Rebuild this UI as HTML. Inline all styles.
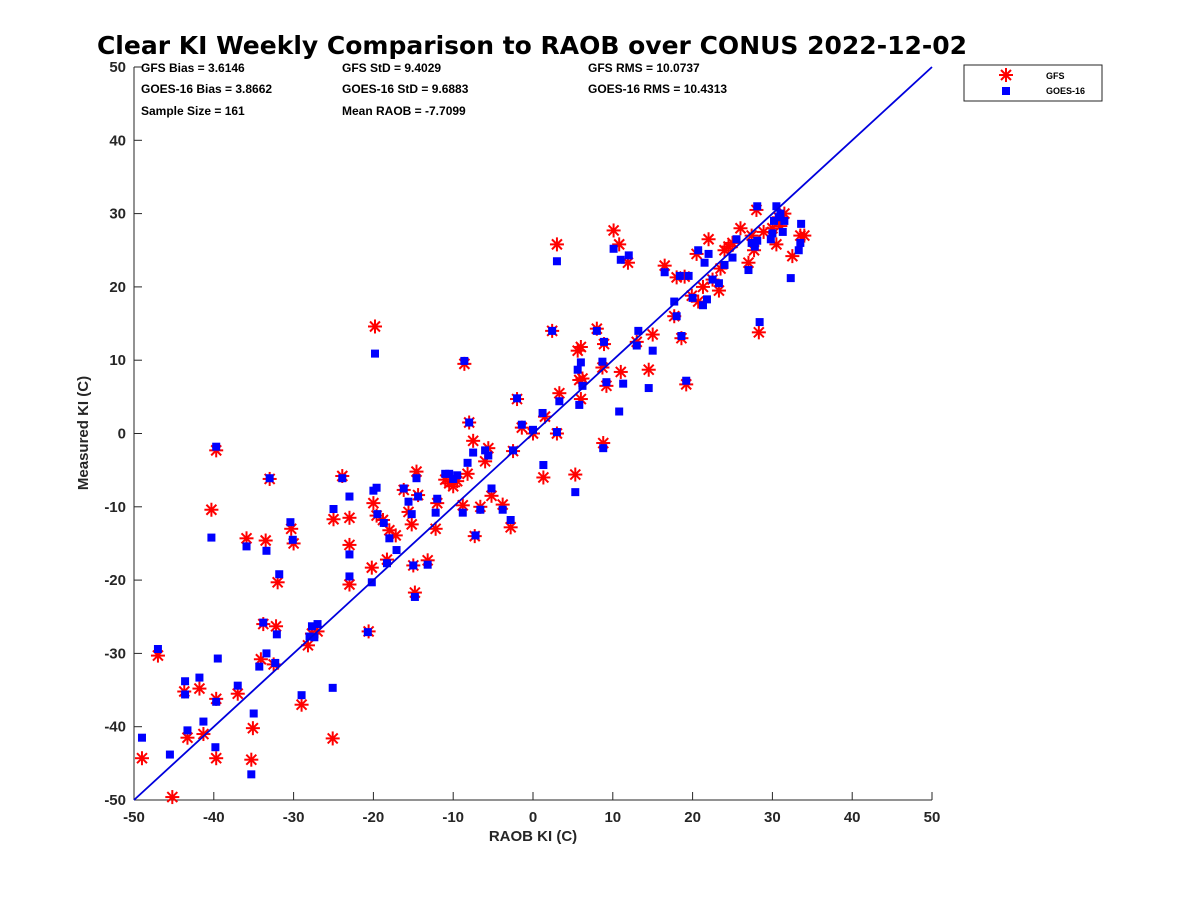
<!DOCTYPE html>
<html><head><meta charset="utf-8"><style>
body{margin:0;background:#fff;}
svg{display:block;font-family:"Liberation Sans",sans-serif;}
</style></head><body>
<svg id="chart" width="1200" height="900">
<text x="532" y="54" text-anchor="middle" font-size="25" font-weight="bold" style="font-family:'DejaVu Sans',sans-serif">Clear KI Weekly Comparison to RAOB over CONUS 2022-12-02</text>
<g font-size="12" font-weight="bold">
<text x="141" y="72">GFS Bias = 3.6146</text>
<text x="141" y="93">GOES-16 Bias = 3.8662</text>
<text x="141" y="115">Sample Size = 161</text>
<text x="342" y="72">GFS StD = 9.4029</text>
<text x="342" y="93">GOES-16 StD = 9.6883</text>
<text x="342" y="115">Mean RAOB = -7.7099</text>
<text x="588" y="72">GFS RMS = 10.0737</text>
<text x="588" y="93">GOES-16 RMS = 10.4313</text>
</g>
<g id="axes"></g>
<g id="marks"></g>
<text x="533" y="841" text-anchor="middle" font-size="15" font-weight="bold" fill="#262626">RAOB KI (C)</text>
<text transform="translate(88,433) rotate(-90)" text-anchor="middle" font-size="15" font-weight="bold" fill="#262626">Measured KI (C)</text>
<g>
<rect x="964" y="65" width="138" height="36" fill="#fff" stroke="#262626" stroke-width="1"/>
<g>
<g stroke="red" stroke-width="2" transform="translate(1006,75)"><line x1="-7" y1="0" x2="7" y2="0"/><line x1="0" y1="-7" x2="0" y2="7"/><line x1="-5" y1="-5" x2="5" y2="5"/><line x1="-5" y1="5" x2="5" y2="-5"/></g>
<text x="1046" y="79" font-size="9" font-weight="bold">GFS</text></g>
<g>
<rect x="1002" y="87" width="8" height="8" fill="blue"/>
<text x="1046" y="94" font-size="9" font-weight="bold">GOES-16</text></g>
</g>
</svg>
<script>
const xTicks=[-50,-40,-30,-20,-10,0,10,20,30,40,50];
const yTicks=[-50,-40,-30,-20,-10,0,10,20,30,40,50];
const gfsRaob=[-49,-47,-45.2,-43.7,-43.3,-41.8,-41.3,-40.3,-39.7,-39.7,-39.7,-37,-35.9,-35.3,-35.1,-34.1,-33.8,-33.5,-33,-32.5,-32.2,-32,-30.3,-30,-29,-28.2,-27.7,-27,-25.1,-25,-23.9,-23,-23,-23,-20.6,-20.2,-20,-19.8,-19.6,-18.8,-18.3,-18,-17.2,-16.2,-15.6,-15.2,-15,-14.8,-14.6,-14.4,-13.2,-12.2,-12,-11,-10.5,-10,-9.5,-8.8,-8.6,-8.2,-8,-7.5,-7.3,-6.6,-6,-5.6,-5.2,-3.8,-2.8,-2.5,-2,-1.4,0,1.3,1.5,2.4,3,3,3.3,5.3,5.6,5.8,6,6,6.2,8,8.7,8.8,8.9,9.2,10.1,10.8,11,11.9,13,14.5,15,16.5,17.7,18,18.6,19,19.2,19.9,20.5,20.7,21.3,22,22.5,23.3,23.5,24,24.5,25,26,27,27.4,27.7,28,28.3,28.9,30,30.5,30.8,31,31.5,32.5,33.5,34];
const gfsVal=[-44.3,-30.3,-49.6,-35.2,-41.5,-34.8,-41,-10.4,-2.3,-36.2,-44.3,-35.5,-14.3,-44.5,-40.2,-30.8,-26,-14.6,-6.2,-31.5,-26.3,-20.3,-13,-15,-37,-28.9,-27.3,-27,-41.6,-11.7,-5.8,-11.5,-15.2,-20.6,-27,-18.3,-9.5,14.6,-11.2,-11.8,-17.2,-13.2,-13.9,-7.7,-10.7,-12.4,-18,-21.7,-5.2,-8.4,-17.3,-13,-9.5,-6.3,-6.8,-7.2,-6.5,-9.8,9.5,-5.5,1.5,-1,-14,-10,-3.8,-2,-8.5,-9.7,-12.8,-2.4,4.7,0.8,0,-6,2.3,14,25.8,0,5.5,-5.6,11.3,7.3,4.7,11.8,7.5,14.3,9,-1.3,12.2,6.5,27.7,25.8,8.4,23.3,12.5,8.7,13.5,22.9,16,21.3,13,21.4,6.7,18.8,24.5,18,20,26.5,21,19.5,22.5,25,25.5,26,28,23.3,27,25,30.5,13.8,27.5,28,25.8,29.5,28.3,30,24.2,27,27];
const goesRaob=[-49,-47,-45.5,-43.6,-43.6,-43.3,-41.8,-41.3,-40.3,-39.7,-39.7,-39.8,-39.5,-37,-35.9,-35.3,-35,-34.3,-33.8,-33.4,-33.4,-33,-32.3,-32.1,-31.8,-30.4,-30.1,-29,-28,-27.7,-27,-27.4,-25.1,-25,-23.9,-23,-23,-23,-20.7,-20.2,-20,-19.8,-19.6,-19.5,-18.7,-18.3,-18,-17.1,-16.2,-15.6,-15.2,-15,-14.8,-14.6,-14.4,-13.2,-12.2,-12,-11,-10.5,-10,-9.5,-8.8,-8.6,-8.2,-8,-7.5,-7.2,-6.6,-6,-5.6,-5.2,-3.8,-2.8,-2.5,-2,-1.4,0,1.3,1.2,2.4,3,3,3.3,5.3,5.6,5.8,6,6.2,8,8.7,8.8,8.9,9.2,10.1,10.8,11,11.3,12,13,13.2,14.5,15,16.5,17.7,18,18.4,18.6,19.2,19.5,20,20.7,21.3,21.5,21.8,22,22.5,23.3,24,25,25.5,27,27.4,27.8,28.1,28.1,28.4,29.8,30,30.5,30.8,31,31.5,32.3,33.3,33.5,33.6,31.3,30.2];
const goesVal=[-41.5,-29.4,-43.8,-33.8,-35.6,-40.5,-33.3,-39.3,-14.2,-1.8,-36.6,-42.8,-30.7,-34.4,-15.4,-46.5,-38.2,-31.8,-25.8,-30,-16,-6.1,-31.3,-27.4,-19.2,-12.1,-14.5,-35.7,-27.7,-26.3,-26,-27.8,-34.7,-10.3,-6.1,-8.6,-16.5,-19.5,-27.1,-20.3,-7.8,10.9,-7.4,-11,-12.2,-17.7,-14.3,-15.9,-7.5,-9.3,-11,-18,-22.3,-6.1,-8.6,-17.9,-10.8,-8.9,-5.5,-5.5,-6.2,-5.7,-10.8,9.9,-4,1.5,-2.6,-13.9,-10.4,-2.3,-3,-7.5,-10.4,-11.8,-2.3,4.8,1.2,0.5,-4.3,2.8,14,23.5,0.2,4.4,-8,8.7,3.9,9.7,6.5,14,9.8,-2,12.5,7,25.2,3,23.7,6.8,24.3,12,14,6.2,11.3,22,18,16,21.5,13.3,7.2,21.5,18.5,25,17.5,23.3,18.3,24.5,21,20.5,23,24,26.5,22.3,26,25.5,26.3,31,15.2,26.5,27.3,31,29.5,30,29,21.2,25,26,28.6,27.5,29];
const NS='http://www.w3.org/2000/svg';
const L=134,R=932,T=67,B=800;
const sx=v=>L+(v+50)/100*(R-L);
const sy=v=>B-(v+50)/100*(B-T);
function mk(tag,attrs,parent){const e=document.createElementNS(NS,tag);for(const k in attrs)e.setAttribute(k,attrs[k]);parent.appendChild(e);return e;}
const axes=document.getElementById('axes');
const marks=document.getElementById('marks');
xTicks.forEach(t=>{
  const ln=mk('line',{x1:sx(t),x2:sx(t),y1:B,y2:B-8,stroke:'#262626','stroke-width':1},axes);
  
  
  const tx=mk('text',{x:sx(t),y:B+22,'text-anchor':'middle','font-size':15,'font-weight':'bold',fill:'#262626'},axes);
  tx.textContent=t;
  
  
});
yTicks.forEach(t=>{
  const ln=mk('line',{x1:L,x2:L+8,y1:sy(t),y2:sy(t),stroke:'#262626','stroke-width':1},axes);
  
  
  const tx=mk('text',{x:L-8,y:sy(t)+5,'text-anchor':'end','font-size':15,'font-weight':'bold',fill:'#262626'},axes);
  tx.textContent=t;
  
  
});
const xa=mk('line',{x1:L,x2:R,y1:B,y2:B,stroke:'#262626','stroke-width':1},axes);


const ya=mk('line',{x1:L,x2:L,y1:T,y2:B,stroke:'#262626','stroke-width':1},axes);


gfsRaob.forEach((x,i)=>{
  const g=mk('g',{stroke:'red','stroke-width':2,transform:`translate(${sx(x)},${sy(gfsVal[i])})`},marks);
  
  
  mk('line',{x1:-7,y1:0,x2:7,y2:0},g);mk('line',{x1:0,y1:-7,x2:0,y2:7},g);
  mk('line',{x1:-5,y1:-5,x2:5,y2:5},g);mk('line',{x1:-5,y1:5,x2:5,y2:-5},g);
});
goesRaob.forEach((x,i)=>{
  const r=mk('rect',{x:sx(x)-4,y:sy(goesVal[i])-4,width:8,height:8,fill:'blue'},marks);
  
  
});
const one=mk('line',{x1:sx(-50),y1:sy(-50),x2:sx(50),y2:sy(50),stroke:'#0000dd','stroke-width':1.8},marks);


</script>
</body></html>
